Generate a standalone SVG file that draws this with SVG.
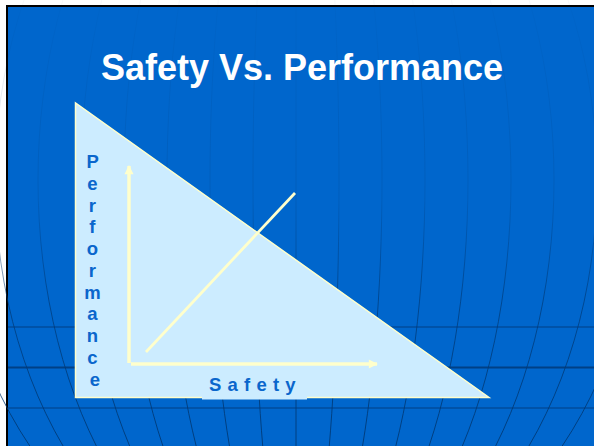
<svg xmlns="http://www.w3.org/2000/svg" width="594" height="446" viewBox="0 0 594 446">
<style>
.grid{fill:none;stroke:url(#gridFade);stroke-width:1}
.hline{stroke:#003a78;stroke-opacity:0.85}
.axis{stroke:#ffffcc;stroke-width:3.5;fill:none}
.lbl{font-family:"Liberation Sans",Arial,sans-serif;font-weight:bold;font-size:18.5px;fill:#0a66cc}
.title{font-family:"Liberation Sans",Arial,sans-serif;font-weight:bold;font-size:36px;fill:#ffffff}
</style>
<defs>
<linearGradient id="gridFade" gradientUnits="userSpaceOnUse" x1="0" y1="0" x2="0" y2="446">
<stop offset="0" stop-color="#003670" stop-opacity="0.03"/>
<stop offset="0.45" stop-color="#003670" stop-opacity="0.18"/>
<stop offset="0.68" stop-color="#003670" stop-opacity="0.65"/>
<stop offset="1" stop-color="#003670" stop-opacity="0.85"/>
</linearGradient>
<marker id="ah" viewBox="0 0 10 10" refX="9" refY="5" markerWidth="3" markerHeight="2.6" orient="auto" markerUnits="strokeWidth">
<path d="M0,0 L10,5 L0,10 Z" fill="#ffffcc"/>
</marker>
</defs>
<rect x="0" y="0" width="594" height="446" fill="#ffffff"/>
<rect x="6" y="5" width="588" height="441" fill="#000000"/>
<rect x="8" y="7" width="586" height="439" fill="#0066cc"/>
<g id="background-grid">
<line class="grid" x1="296" y1="7" x2="296" y2="446"/>
<ellipse class="grid" cx="296" cy="180" rx="43" ry="420"/>
<ellipse class="grid" cx="296" cy="180" rx="86" ry="420"/>
<ellipse class="grid" cx="296" cy="180" rx="129" ry="420"/>
<ellipse class="grid" cx="296" cy="180" rx="172" ry="420"/>
<ellipse class="grid" cx="296" cy="180" rx="215" ry="420"/>
<ellipse class="grid" cx="296" cy="180" rx="258" ry="420"/>
<ellipse class="grid" cx="296" cy="180" rx="301" ry="420" stroke-width="1.6"/>
<ellipse class="grid" cx="296" cy="180" rx="344" ry="420"/>
<line class="hline" x1="8" y1="327" x2="594" y2="327" stroke-width="1.2"/>
<line class="hline" x1="8" y1="367.5" x2="594" y2="367.5" stroke-width="2"/>
<line class="hline" x1="8" y1="408" x2="594" y2="408" stroke-width="1.2"/>
</g>
<g id="title">
<text class="title" x="302" y="80" text-anchor="middle">Safety Vs. Performance</text>
</g>
<g id="triangle">
<polygon points="75.5,103 75.5,397.5 489,397.5" fill="#ccecff" stroke="#ffffcc" stroke-width="1.5" stroke-linejoin="miter"/>
</g>
<g id="connectors">
<line class="axis" x1="129" y1="363" x2="129" y2="166" marker-end="url(#ah)"/>
<line class="axis" x1="131" y1="364" x2="377" y2="364" stroke-width="3" marker-end="url(#ah)"/>
<line x1="146" y1="352" x2="295" y2="193" stroke="#ffffcc" stroke-width="2.8"/>
</g>
<g id="label-performance">
<text class="lbl" text-anchor="middle">
<tspan x="95" y="168">P</tspan>
<tspan x="95" y="189.8">e</tspan>
<tspan x="95" y="211.5">r</tspan>
<tspan x="95" y="233.3">f</tspan>
<tspan x="95" y="255">o</tspan>
<tspan x="95" y="276.8">r</tspan>
<tspan x="95" y="298.5">m</tspan>
<tspan x="95" y="320.3">a</tspan>
<tspan x="95" y="342">n</tspan>
<tspan x="95" y="363.8">c</tspan>
<tspan x="95" y="385.5">e</tspan>
</text>
</g>
<g id="label-safety">
<rect x="202" y="372" width="105" height="27.5" fill="#ccecff"/>
<text class="lbl" x="209" y="391" letter-spacing="6.2">Safety</text>
</g>
</svg>
